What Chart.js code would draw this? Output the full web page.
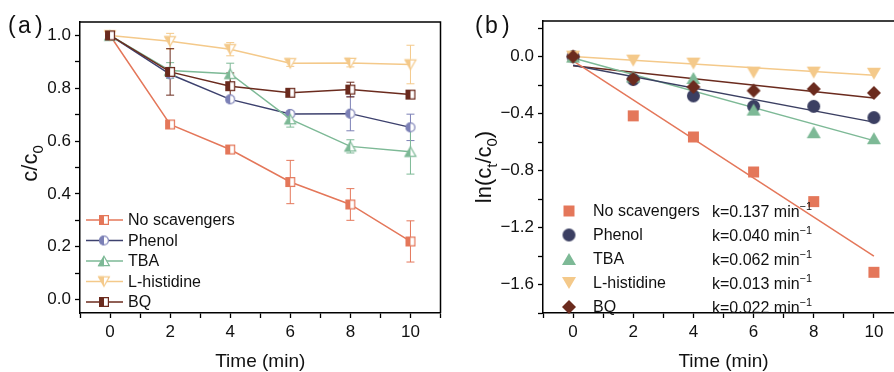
<!DOCTYPE html>
<html>
<head>
<meta charset="utf-8">
<script src="https://cdn.jsdelivr.net/npm/chart.js@4"></script>
<style>
  html, body { margin: 0; padding: 0; background: #fff; overflow: hidden; width: 894px; height: 372px; }
  #wrapA { position: absolute; left: 0; top: 0; width: 447px; height: 372px; }
  #wrapB { position: absolute; left: 447px; top: 0; width: 464px; height: 372px; }
</style>
</head>
<body>
<div id="wrapA"><canvas id="chartA" width="447" height="372"></canvas></div>
<div id="wrapB"><canvas id="chartB" width="464" height="372"></canvas></div>
<script>
// ---- data ----
const times = [0, 2, 4, 6, 8, 10];
const names = ['No scavengers', 'Phenol', 'TBA', 'L-histidine', 'BQ'];

// (a) c/c0 with error bars
const noScav    = [1.0, 0.663, 0.568, 0.445, 0.360, 0.220];
const noScavErr = [0.01, 0.01, 0.012, 0.082, 0.060, 0.078];
const phenol    = [1.0, 0.853, 0.758, 0.703, 0.704, 0.652];
const phenolErr = [0.005, 0.01, 0.01, 0.008, 0.065, 0.050];
const tba       = [1.0, 0.867, 0.855, 0.683, 0.580, 0.560];
const tbaErr    = [0.015, 0.03, 0.04, 0.030, 0.025, 0.085];
const histidine = [1.0, 0.978, 0.948, 0.895, 0.896, 0.890];
const histErr   = [0.01, 0.03, 0.025, 0.012, 0.015, 0.073];
const bq        = [1.0, 0.862, 0.808, 0.783, 0.795, 0.776];
const bqErr     = [0.005, 0.088, 0.05, 0.010, 0.028, 0.010];

// (b) ln(ct/c0) and fitted lines (value at t=0 and t=10)
const fitTimes  = [0, 10];
const lnNoScav  = [0, -0.416, -0.564, -0.810, -1.018, -1.514];
const lnPhenol  = [0, -0.161, -0.276, -0.349, -0.349, -0.428];
const lnTba     = [0, -0.140, -0.150, -0.372, -0.531, -0.573];
const lnHist    = [0, -0.028, -0.049, -0.112, -0.112, -0.120];
const lnBq      = [0, -0.157, -0.213, -0.239, -0.227, -0.255];
const fitNoScav = [-0.03, -1.40];
const fitPhenol = [-0.06, -0.46];
const fitTba    = [-0.01, -0.59];
const fitHist   = [0.0, -0.13];
const fitBq     = [-0.065, -0.29];
const rates     = ['0.137', '0.040', '0.062', '0.013', '0.022'];

// ---- styles ----
const FONT = '"Liberation Sans", Arial, sans-serif';
const lineColors   = ['#E4775A', '#3D416E', '#7DB996', '#F4C98A', '#6B2B1E'];
const markColorsA  = ['#E4775A', '#7C80B6', '#7DB996', '#F4C98A', '#6B2B1E'];
const markColorsB  = ['#E4775A', '#3B3F62', '#7DB996', '#F4C98A', '#6B2B1E'];
const shapesA = ['square', 'circle', 'triUp', 'triDown', 'square'];
const shapesB = ['square', 'circle', 'triUp', 'triDown', 'diamond'];
const sizesA  = [10, 10, 12, 12, 10];
const sizesB  = [11, 13, 14, 14, 14];

function shapePath(ctx, shape, cx, cy, s) {
  const h = s * 0.866;
  ctx.beginPath();
  if (shape === 'square') ctx.rect(cx - s / 2, cy - s / 2, s, s);
  else if (shape === 'circle') ctx.arc(cx, cy, s / 2, 0, Math.PI * 2);
  else if (shape === 'triUp') { ctx.moveTo(cx, cy - h / 2); ctx.lineTo(cx + s / 2, cy + h / 2); ctx.lineTo(cx - s / 2, cy + h / 2); ctx.closePath(); }
  else if (shape === 'triDown') { ctx.moveTo(cx, cy + h / 2); ctx.lineTo(cx + s / 2, cy - h / 2); ctx.lineTo(cx - s / 2, cy - h / 2); ctx.closePath(); }
  else if (shape === 'diamond') { ctx.moveTo(cx, cy - s / 2); ctx.lineTo(cx + s / 2, cy); ctx.lineTo(cx, cy + s / 2); ctx.lineTo(cx - s / 2, cy); ctx.closePath(); }
}

// marker image: half = left half filled, else solid
function makeMarker(shape, color, s, half) {
  const c = document.createElement('canvas');
  c.width = c.height = Math.ceil(s + 4);
  const ctx = c.getContext('2d');
  const m = c.width / 2;
  shapePath(ctx, shape, m, m, s);
  if (half) {
    ctx.fillStyle = '#fff';
    ctx.fill();
    ctx.save();
    ctx.clip();
    ctx.fillStyle = color;
    ctx.fillRect(0, 0, m, c.height);
    ctx.restore();
    shapePath(ctx, shape, m, m, s - 1.2);
    ctx.strokeStyle = color;
    ctx.lineWidth = 1.2;
    ctx.stroke();
  } else {
    ctx.fillStyle = color;
    ctx.fill();
  }
  return c;
}

const markersA = shapesA.map((sh, i) => makeMarker(sh, markColorsA[i], sizesA[i], true));
const markersB = shapesB.map((sh, i) => makeMarker(sh, markColorsB[i], sizesB[i], false));

// text with sub/superscripts: parts = [[text, 0|1|2]]  0 normal, 1 sub, 2 sup
function richText(ctx, parts, x, y, size, align) {
  const fontOf = (mode) => `${mode ? size * 0.68 : size}px ${FONT}`;
  let total = 0;
  parts.forEach(([t, mode]) => { ctx.font = fontOf(mode); total += ctx.measureText(t).width; });
  let cx = align === 'center' ? x - total / 2 : x;
  ctx.textAlign = 'left';
  ctx.textBaseline = 'alphabetic';
  parts.forEach(([t, mode]) => {
    ctx.font = fontOf(mode);
    const dy = mode === 1 ? size * 0.28 : mode === 2 ? -size * 0.42 : 0;
    ctx.fillText(t, cx, y + dy);
    cx += ctx.measureText(t).width;
  });
}

function xy(xs, ys) { return xs.map((x, i) => ({ x, y: ys[i] })); }

function axes(yMin, yMax, yStep, yLabelEvery, yWidth) {
  return {
    x: {
      type: 'linear', min: -1, max: 11,
      border: { color: '#000', width: 1.5 },
      grid: { drawOnChartArea: false, drawTicks: true, tickLength: 5, tickWidth: 1.3, tickColor: '#000' },
      ticks: {
        stepSize: 1, autoSkip: false, includeBounds: false, maxRotation: 0, padding: 4,
        color: '#111', font: { family: FONT, size: 17 },
        callback: (v) => (v >= 0 && v <= 10 && v % 2 === 0 ? String(v) : '')
      },
      afterFit: (s) => { s.height = 59; }
    },
    y: {
      type: 'linear', min: yMin, max: yMax,
      border: { color: '#000', width: 1.5 },
      grid: { drawOnChartArea: false, drawTicks: true, tickLength: 5, tickWidth: 1.3, tickColor: '#000' },
      ticks: {
        stepSize: yStep, autoSkip: false, includeBounds: false, padding: 4,
        color: '#111', font: { family: FONT, size: 17 },
        callback: (v) => {
          const r = Math.round(v * 10);
          if (Math.abs(v * 10 - r) > 0.01 || r % yLabelEvery !== 0) return '';
          const a = Math.abs(r) / 10;
          return (r < 0 ? '\u2212' : '') + a.toFixed(1);
        }
      },
      afterFit: (s) => { s.width = yWidth; }
    }
  };
}

function frame(chart) {
  const { ctx, chartArea: a } = chart;
  ctx.save();
  ctx.strokeStyle = '#000';
  ctx.lineWidth = 1.5;
  ctx.beginPath();
  ctx.moveTo(a.left, a.top); ctx.lineTo(a.right, a.top); ctx.lineTo(a.right, a.bottom);
  ctx.stroke();
  ctx.restore();
}

function panelLabel(ctx, letter, x0) {
  ctx.save();
  ctx.fillStyle = '#111';
  ctx.font = `300 23px ${FONT}`;
  ctx.textBaseline = 'alphabetic';
  ctx.fillText('(', x0, 33);
  ctx.fillText(letter, x0 + 10, 33);
  ctx.fillText(')', x0 + 27, 33);
  ctx.restore();
}

// ---- chart (a) ----
const valuesA = [noScav, phenol, tba, histidine, bq];
const errsA = [noScavErr, phenolErr, tbaErr, histErr, bqErr];

const pluginA = {
  id: 'panelA',
  beforeDatasetsDraw(chart) {
    const { ctx, scales: { x, y } } = chart;
    ctx.save();
    ctx.lineWidth = 1;
    valuesA.forEach((vals, i) => {
      ctx.strokeStyle = markColorsA[i];
      vals.forEach((v, j) => {
        const px = x.getPixelForValue(times[j]);
        const top = y.getPixelForValue(v + errsA[i][j]);
        const bot = y.getPixelForValue(v - errsA[i][j]);
        ctx.beginPath();
        ctx.moveTo(px, top); ctx.lineTo(px, bot);
        ctx.moveTo(px - 4, top); ctx.lineTo(px + 4, top);
        ctx.moveTo(px - 4, bot); ctx.lineTo(px + 4, bot);
        ctx.stroke();
      });
    });
    ctx.restore();
  },
  afterDraw(chart) {
    const { ctx, chartArea: a } = chart;
    frame(chart);
    ctx.save();
    ctx.fillStyle = '#111';
    richText(ctx, [['Time (min)', 0]], (a.left + a.right) / 2, 367, 19, 'center');
    ctx.translate(37, (a.top + a.bottom) / 2 - 4);
    ctx.rotate(-Math.PI / 2);
    richText(ctx, [['c/c', 0], ['0', 1]], 0, 0, 22, 'center');
    ctx.restore();
    // legend
    ctx.save();
    names.forEach((n, i) => {
      const yy = 220 + i * 20.5;
      ctx.strokeStyle = lineColors[i];
      ctx.lineWidth = 1.5;
      ctx.beginPath(); ctx.moveTo(86, yy); ctx.lineTo(123, yy); ctx.stroke();
      const m = markersA[i];
      ctx.drawImage(m, 104 - m.width / 2, yy - m.height / 2);
      ctx.fillStyle = '#111';
      ctx.font = `16px ${FONT}`;
      ctx.textBaseline = 'middle';
      ctx.fillText(n, 128, yy + 1);
    });
    ctx.restore();
    panelLabel(ctx, 'a', 8);
  }
};

const orderA = [4, 3, 2, 1, 0];
new Chart(document.getElementById('chartA'), {
  type: 'line',
  data: {
    datasets: valuesA.map((vals, i) => ({
      label: names[i],
      data: xy(times, vals),
      borderColor: lineColors[i],
      borderWidth: 1.5,
      pointStyle: markersA[i],
      pointRadius: 5,
      order: orderA[i]
    }))
  },
  options: {
    responsive: false,
    animation: false,
    devicePixelRatio: 1,
    layout: { padding: { left: 0, top: 22, right: 5, bottom: 0 } },
    plugins: { legend: { display: false }, tooltip: { enabled: false } },
    scales: axes(-0.051, 1.051, 0.1, 2, 80)
  },
  plugins: [pluginA]
});

// ---- chart (b) ----
const valuesB = [lnNoScav, lnPhenol, lnTba, lnHist, lnBq];
const fitsB = [fitNoScav, fitPhenol, fitTba, fitHist, fitBq];

const pluginB = {
  id: 'panelB',
  afterDraw(chart) {
    const { ctx, chartArea: a } = chart;
    frame(chart);
    ctx.save();
    ctx.fillStyle = '#111';
    richText(ctx, [['Time (min)', 0]], (a.left + a.right) / 2, 367, 19, 'center');
    ctx.translate(44, (a.top + a.bottom) / 2);
    ctx.rotate(-Math.PI / 2);
    richText(ctx, [['ln(c', 0], ['t', 1], ['/c', 0], ['0', 1], [')', 0]], 0, 0, 22, 'center');
    ctx.restore();
    // legend
    ctx.save();
    names.forEach((n, i) => {
      const yy = 211 + i * 24;
      const m = markersB[i];
      ctx.drawImage(m, 122 - m.width / 2, yy - m.height / 2);
      ctx.fillStyle = '#111';
      ctx.font = `16px ${FONT}`;
      ctx.textBaseline = 'middle';
      ctx.fillText(n, 146, yy + 1);
      richText(ctx, [['k=' + rates[i] + ' min', 0], ['\u22121', 2]], 265, yy + 6, 16, 'left');
    });
    ctx.restore();
    panelLabel(ctx, 'b', 28);
  }
};

const datasetsB = [];
valuesB.forEach((vals, i) => {
  datasetsB.push({
    label: names[i] + ' fit',
    data: xy(fitTimes, fitsB[i]),
    borderColor: lineColors[i] === '#3D416E' ? '#3B3F62' : lineColors[i],
    borderWidth: 1.5,
    pointRadius: 0,
    order: 10
  });
  datasetsB.push({
    label: names[i],
    data: xy(times, vals),
    showLine: false,
    pointStyle: markersB[i],
    pointRadius: 6,
    order: orderA[i]
  });
});

new Chart(document.getElementById('chartB'), {
  type: 'line',
  data: { datasets: datasetsB },
  options: {
    responsive: false,
    animation: false,
    devicePixelRatio: 1,
    layout: { padding: { left: 0, top: 21, right: 5, bottom: 0 } },
    plugins: { legend: { display: false }, tooltip: { enabled: false } },
    scales: axes(-1.8, 0.25, 0.2, 4, 96)
  },
  plugins: [pluginB]
});
</script>
</body>
</html>
